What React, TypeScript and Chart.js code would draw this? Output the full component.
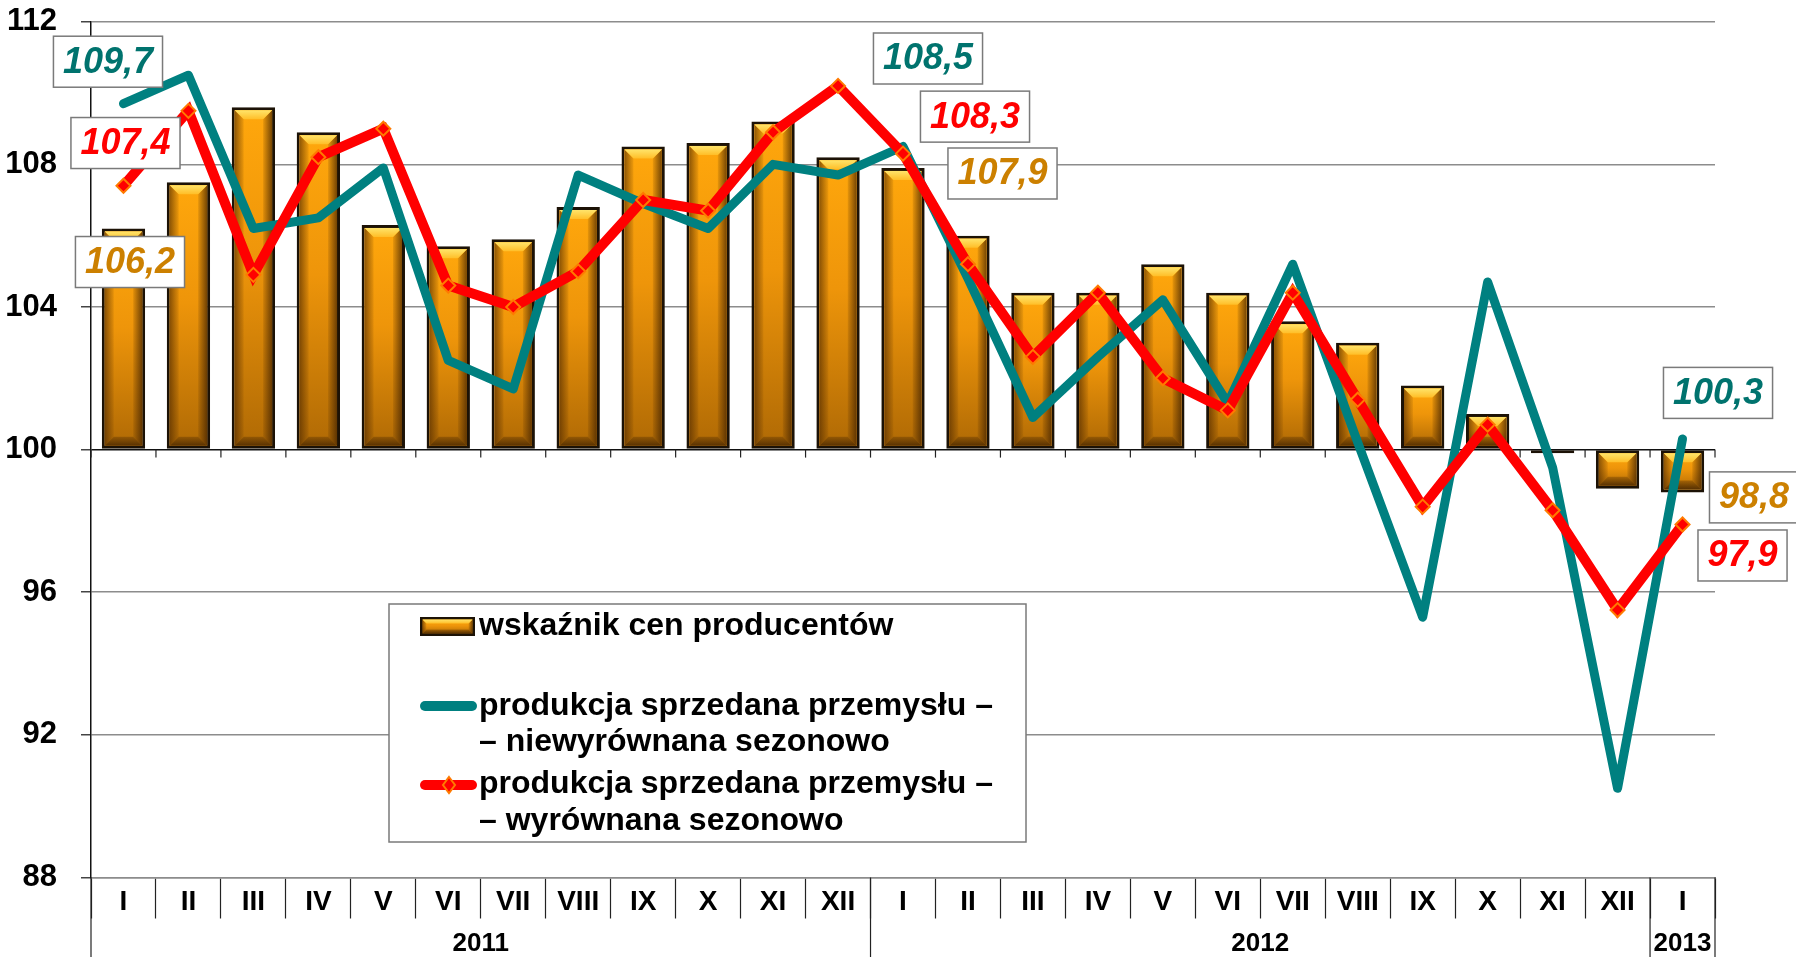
import React, { useEffect, useRef } from 'react';
import { Chart, registerables } from 'chart.js';

Chart.register(...registerables);

// ---------- data ----------
const months = ['I', 'II', 'III', 'IV', 'V', 'VI', 'VII', 'VIII', 'IX', 'X', 'XI', 'XII',
  'I', 'II', 'III', 'IV', 'V', 'VI', 'VII', 'VIII', 'IX', 'X', 'XI', 'XII', 'I'];
const years = ['2011', '2012', '2013'];
const yearFirstIndex = [0, 12, 24];

const priceIndex = [106.2, 107.5, 109.6, 108.9, 106.3, 105.7, 105.9, 106.8, 108.5, 108.6, 109.2, 108.2,
  107.9, 106.0, 104.4, 104.4, 105.2, 104.4, 103.6, 103.0, 101.8, 101.0, 99.9, 98.9, 98.8];
const prodUnadjusted = [109.7, 110.5, 106.2, 106.5, 107.9, 102.5, 101.7, 107.7, 106.9, 106.2, 108.0, 107.7,
  108.5, 104.8, 100.9, 102.6, 104.2, 101.3, 105.2, 100.2, 95.3, 104.7, 99.5, 90.5, 100.3];
const prodAdjusted = [107.4, 109.5, 104.9, 108.2, 109.0, 104.6, 104.0, 105.0, 107.0, 106.7, 108.9, 110.2,
  108.3, 105.2, 102.6, 104.4, 102.0, 101.1, 104.4, 101.4, 98.4, 100.7, 98.3, 95.5, 97.9];

const yMin = 88;
const yMax = 112;
const yStep = 4;
const baseValue = 100;

const legendPrice = ['wskaźnik cen producentów'];
const legendUnadj = ['produkcja sprzedana przemysłu –', '– niewyrównana sezonowo'];
const legendAdj = ['produkcja sprzedana przemysłu –', '– wyrównana sezonowo'];

// value-label callouts: dataset, index, box-centre offset from the mark (px)
const callouts = [
  { ds: 1, i: 0, dx: -15.5, dy: -42 },
  { ds: 2, i: 0, dx: 2, dy: -42.7 },
  { ds: 0, i: 0, dx: 6.5, dy: 33.5 },
  { ds: 1, i: 12, dx: 25, dy: -88 },
  { ds: 2, i: 12, dx: 72, dy: -37 },
  { ds: 0, i: 12, dx: 99.5, dy: 5.6 },
  { ds: 1, i: 24, dx: 35.5, dy: -46 },
  { ds: 0, i: 24, dx: 71.5, dy: 5 },
  { ds: 2, i: 24, dx: 60, dy: 31 },
];

// ---------- styles ----------
const FONT = "'Liberation Sans', Arial, Helvetica, sans-serif";
const GRID = '#8c8c8c';
const TEAL = '#008080';
const RED = '#FF0000';
const labelColors = ['#CC8000', '#00736E', '#FF0000'];

function poly(ctx: CanvasRenderingContext2D, pts: number[]) {
  ctx.beginPath();
  ctx.moveTo(pts[0], pts[1]);
  for (let k = 2; k < pts.length; k += 2) ctx.lineTo(pts[k], pts[k + 1]);
  ctx.closePath();
}

function paintBevel(ctx: CanvasRenderingContext2D, L: number, T: number, R: number, B: number, s: number) {
  ctx.save();
  const g = ctx.createLinearGradient(0, T, 0, B);
  g.addColorStop(0, '#FFA70C');
  g.addColorStop(0.45, '#EE950A');
  g.addColorStop(1, '#B06A05');
  ctx.fillStyle = g;
  ctx.fillRect(L, T, R - L, B - T);

  const lg = ctx.createLinearGradient(L, 0, L + s, 0);
  lg.addColorStop(0, 'rgba(70,35,0,0.6)');
  lg.addColorStop(1, 'rgba(70,35,0,0.08)');
  ctx.fillStyle = lg;
  poly(ctx, [L, T, L + s, T + s, L + s, B - s, L, B]);
  ctx.fill();

  const rg = ctx.createLinearGradient(R, 0, R - s, 0);
  rg.addColorStop(0, 'rgba(60,30,0,0.7)');
  rg.addColorStop(1, 'rgba(60,30,0,0.1)');
  ctx.fillStyle = rg;
  poly(ctx, [R, T, R - s, T + s, R - s, B - s, R, B]);
  ctx.fill();

  const tg = ctx.createLinearGradient(0, T, 0, T + s);
  tg.addColorStop(0, '#FFE46A');
  tg.addColorStop(1, '#FFBE28');
  ctx.fillStyle = tg;
  poly(ctx, [L, T, R, T, R - s, T + s, L + s, T + s]);
  ctx.fill();

  const bg = ctx.createLinearGradient(0, B, 0, B - s);
  bg.addColorStop(0, 'rgba(50,25,0,0.7)');
  bg.addColorStop(1, 'rgba(50,25,0,0.25)');
  ctx.fillStyle = bg;
  poly(ctx, [L, B, R, B, R - s, B - s, L + s, B - s]);
  ctx.fill();
  ctx.restore();
}

function fmt(v: number) {
  return v.toFixed(1).replace('.', ',');
}

const decor = {
  id: 'decor',
  beforeDatasetsDraw(chart: any) {
    const { ctx, scales } = chart;
    const xs = scales.x;
    const ys = scales.y;
    const y100 = ys.getPixelForValue(baseValue);
    ctx.save();
    ctx.strokeStyle = '#222';
    ctx.lineWidth = 1.2;
    for (let i = 0; i <= months.length; i++) {
      const x = xs.getPixelForValue(i - 0.5);
      ctx.beginPath();
      ctx.moveTo(x, y100);
      ctx.lineTo(x, y100 + 8);
      ctx.stroke();
    }
    ctx.restore();
  },
  afterDatasetDraw(chart: any, args: any) {
    if (args.index !== 0) return;
    const ctx = chart.ctx;
    const meta = chart.getDatasetMeta(0);
    meta.data.forEach((el: any) => {
      const { x, y, base, width } = el.getProps(['x', 'y', 'base', 'width'], true);
      const b = 3;
      const L = x - width / 2 + b;
      const R = x + width / 2 - b;
      const T = Math.min(y, base) + b;
      const B = Math.max(y, base) - b;
      if (B - T < 2) return;
      paintBevel(ctx, L, T, R, B, Math.min(9, (R - L) / 2, (B - T) / 2));
    });
  },
  afterDraw(chart: any) {
    const { ctx, scales, chartArea, height } = chart;
    const xs = scales.x;
    const ys = scales.y;
    ctx.save();

    // year separators and labels
    ctx.strokeStyle = '#222';
    ctx.lineWidth = 1.2;
    const seps = [chartArea.left, chartArea.right];
    for (let k = 1; k < yearFirstIndex.length; k++) seps.push(xs.getPixelForValue(yearFirstIndex[k] - 0.5));
    seps.forEach((x) => {
      ctx.beginPath();
      ctx.moveTo(x, chartArea.bottom);
      ctx.lineTo(x, height);
      ctx.stroke();
    });
    ctx.fillStyle = '#000';
    ctx.font = `bold 26px ${FONT}`;
    ctx.textAlign = 'center';
    ctx.textBaseline = 'middle';
    years.forEach((yr, k) => {
      const first = yearFirstIndex[k];
      const last = k + 1 < yearFirstIndex.length ? yearFirstIndex[k + 1] - 1 : months.length - 1;
      const cx = (xs.getPixelForValue(first) + xs.getPixelForValue(last)) / 2;
      ctx.fillText(yr, cx, chartArea.bottom + 66);
    });

    // legend
    const lx = 389, ly = 604, lw = 637, lh = 238;
    ctx.fillStyle = '#fff';
    ctx.fillRect(lx, ly, lw, lh);
    ctx.strokeStyle = '#7a7a7a';
    ctx.lineWidth = 1.5;
    ctx.strokeRect(lx, ly, lw, lh);

    // bar icon
    ctx.fillStyle = '#1c1206';
    ctx.fillRect(420, 617, 55, 19);
    paintBevel(ctx, 422.5, 619.5, 472.5, 633.5, 4);
    // teal icon
    ctx.lineCap = 'round';
    ctx.lineWidth = 10;
    ctx.strokeStyle = TEAL;
    ctx.beginPath();
    ctx.moveTo(425, 706);
    ctx.lineTo(472, 706);
    ctx.stroke();
    // red icon
    ctx.strokeStyle = RED;
    ctx.beginPath();
    ctx.moveTo(425, 785);
    ctx.lineTo(472, 785);
    ctx.stroke();
    ctx.lineCap = 'butt';
    ctx.fillStyle = RED;
    ctx.strokeStyle = '#FF7A00';
    ctx.lineWidth = 2;
    poly(ctx, [449, 777, 455, 785, 449, 793, 443, 785]);
    ctx.fill();
    ctx.stroke();

    ctx.fillStyle = '#000';
    ctx.font = `bold 32px ${FONT}`;
    ctx.textAlign = 'left';
    ctx.textBaseline = 'middle';
    const rows: [string, number][] = [
      [legendPrice[0], 626],
      [legendUnadj[0], 706],
      [legendUnadj[1], 742],
      [legendAdj[0], 784],
      [legendAdj[1], 821],
    ];
    rows.forEach(([t, y]) => ctx.fillText(t, 479, y));

    // value callouts
    const series = [priceIndex, prodUnadjusted, prodAdjusted];
    ctx.font = `italic bold 36px ${FONT}`;
    ctx.textAlign = 'center';
    callouts.forEach((c) => {
      const v = series[c.ds][c.i];
      const px = xs.getPixelForValue(c.i);
      const py = ys.getPixelForValue(v);
      const text = fmt(v);
      const tw = ctx.measureText(text).width;
      const bw = tw + 19;
      const bh = 51;
      const cx = px + c.dx;
      const cy = py + c.dy;
      ctx.fillStyle = '#fff';
      ctx.fillRect(cx - bw / 2, cy - bh / 2, bw, bh);
      ctx.strokeStyle = '#7a7a7a';
      ctx.lineWidth = 1.5;
      ctx.strokeRect(cx - bw / 2, cy - bh / 2, bw, bh);
      ctx.fillStyle = labelColors[c.ds];
      ctx.fillText(text, cx, cy + 1);
    });
    ctx.restore();
  },
};

export default function App() {
  const ref = useRef<HTMLCanvasElement>(null);

  useEffect(() => {
    const canvas = ref.current;
    if (!canvas) return;
    const chart = new Chart(canvas, {
      type: 'bar',
      data: {
        labels: months,
        datasets: [
          {
            type: 'bar',
            label: legendPrice.join(' '),
            data: priceIndex,
            base: baseValue,
            backgroundColor: '#EE950A',
            borderColor: '#1c1206',
            borderWidth: 3,
            borderSkipped: false,
            categoryPercentage: 1,
            barPercentage: 0.667,
            order: 3,
          } as any,
          {
            type: 'line',
            label: legendUnadj.join(' '),
            data: prodUnadjusted,
            borderColor: TEAL,
            backgroundColor: TEAL,
            borderWidth: 9,
            pointRadius: 0,
            borderCapStyle: 'round',
            borderJoinStyle: 'round',
            tension: 0,
            order: 2,
          } as any,
          {
            type: 'line',
            label: legendAdj.join(' '),
            data: prodAdjusted,
            borderColor: RED,
            backgroundColor: RED,
            borderWidth: 10,
            pointStyle: 'rectRot',
            pointRadius: 7,
            pointBackgroundColor: RED,
            pointBorderColor: '#FF7A00',
            pointBorderWidth: 2,
            borderCapStyle: 'butt',
            borderJoinStyle: 'miter',
            tension: 0,
            order: 1,
          } as any,
        ],
      },
      options: {
        responsive: false,
        animation: false,
        devicePixelRatio: 1,
        layout: { padding: { top: 21.7, right: 81, bottom: 0, left: 0 } },
        plugins: { legend: { display: false }, tooltip: { enabled: false } },
        scales: {
          x: {
            type: 'category',
            offset: true,
            grid: {
              offset: true,
              drawOnChartArea: false,
              drawTicks: true,
              tickLength: 41,
              tickColor: '#222',
              tickWidth: 1.2,
            },
            border: { display: true, color: GRID, width: 1.5 },
            ticks: {
              font: { family: FONT, size: 28, weight: 'bold' },
              color: '#000',
              padding: -33.3,
              maxRotation: 0,
              autoSkip: false,
            },
            afterFit: (s: any) => { s.height = 79.5; s.paddingLeft = 0; s.paddingRight = 0; },
          },
          y: {
            min: yMin,
            max: yMax,
            ticks: {
              stepSize: yStep,
              font: { family: FONT, size: 31, weight: 'bold' },
              color: '#000',
              padding: 24,
            },
            grid: {
              color: (c: any) => (c.tick && c.tick.value === baseValue ? '#111' : GRID),
              lineWidth: 1.5,
              tickLength: 10,
              tickColor: '#444',
              drawTicks: true,
            },
            border: { color: '#111', width: 1.5 },
            afterFit: (s: any) => { s.width = 91; s.paddingTop = 0; s.paddingBottom = 0; },
          },
        },
      } as any,
      plugins: [decor],
    });
    return () => chart.destroy();
  }, []);

  return (
    <div style={{ position: 'absolute', left: 0, top: 0, width: 1796, height: 957, background: '#fff' }}>
      <canvas ref={ref} width={1796} height={957} style={{ display: 'block' }} />
    </div>
  );
}
